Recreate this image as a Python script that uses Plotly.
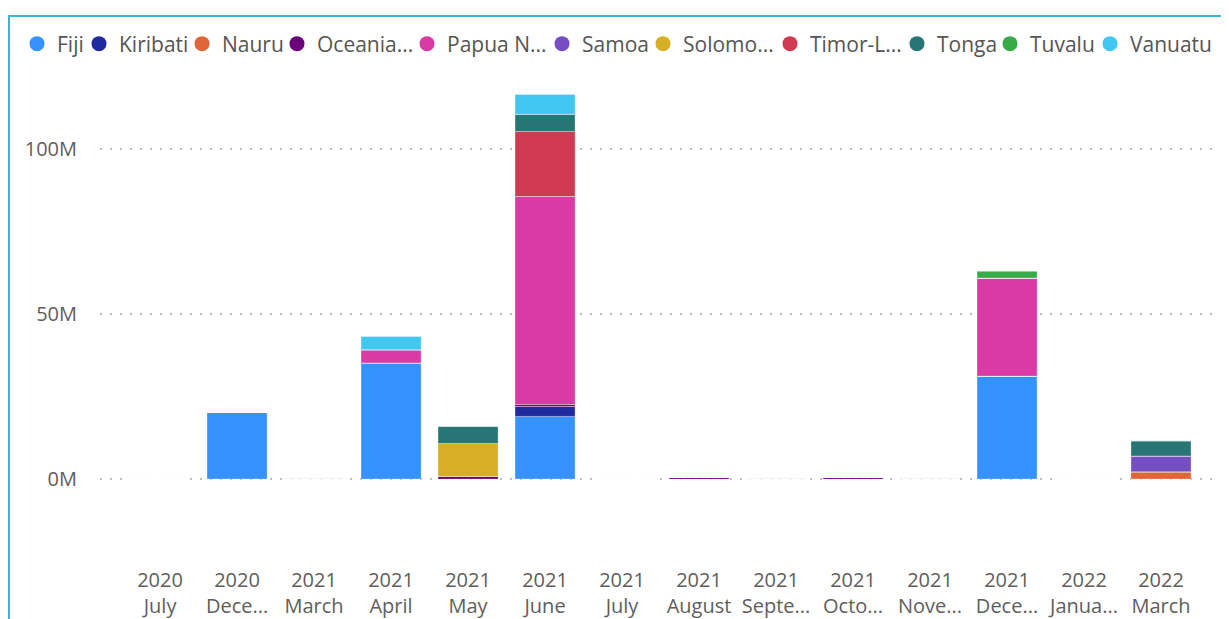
import plotly.graph_objects as go

categories = ["2020<br>July", "2020<br>Dece...", "2021<br>March", "2021<br>April", "2021<br>May",
              "2021<br>June", "2021<br>July", "2021<br>August", "2021<br>Septe...", "2021<br>Octo...",
              "2021<br>Nove...", "2021<br>Dece...", "2022<br>Janua...", "2022<br>March"]

series_names = ["Fiji", "Kiribati", "Nauru", "Oceania...", "Papua N...", "Samoa", "Solomo...",
                "Timor-L...", "Tonga", "Tuvalu", "Vanuatu"]

# values in millions
fiji     = [0, 20.3, 0, 35.2, 0, 19.0, 0, 0, 0, 0, 0, 31.2, 0, 0]
kiribati = [0, 0, 0, 0, 0, 3.0, 0, 0, 0, 0, 0, 0, 0, 0]
nauru    = [0, 0, 0, 0, 0, 0, 0, 0, 0, 0, 0, 0, 0, 2.2]
oceania  = [0, 0, 0.3, 0, 0.8, 0.6, 0, 0.6, 0.3, 0.6, 0.3, 0, 0, 0]
papua    = [0, 0, 0, 4.0, 0, 63.0, 0, 0, 0, 0, 0, 29.7, 0, 0]
samoa    = [0, 0, 0, 0, 0, 0, 0, 0, 0, 0, 0, 0, 0, 4.8]
solomon  = [0, 0, 0, 0, 10.0, 0, 0, 0, 0, 0, 0, 0, 0, 0]
timor    = [0, 0, 0, 0, 0, 19.7, 0, 0, 0, 0, 0, 0, 0, 0]
tonga    = [0, 0, 0, 0, 5.2, 5.2, 0, 0, 0, 0, 0, 0, 0, 4.6]
tuvalu   = [0, 0, 0, 0, 0, 0, 0, 0, 0, 0, 0, 2.1, 0, 0]
vanuatu  = [0, 0, 0, 4.0, 0, 6.0, 0, 0, 0, 0, 0, 0, 0, 0]

series_values = [fiji, kiribati, nauru, oceania, papua, samoa, solomon, timor, tonga, tuvalu, vanuatu]

colors = ["#3592FF", "#1E2A9E", "#E0663A", "#6B007B", "#D93AA5", "#744EC2", "#D6AF27",
          "#D03A50", "#277575", "#37AB48", "#42C8F0"]
legend_widths = [17, 58, 50, 85, 90, 56, 82, 82, 48, 55, 85]

y_ticks = [0, 50, 100]
y_tick_text = ["0M", "50M", "100M"]

fig = go.Figure()
for name, vals, col, lw in zip(series_names, series_values, colors, legend_widths):
    fig.add_trace(go.Bar(x=categories, y=vals, name=name, marker_color=col,
                         marker_line=dict(color="rgba(255,255,255,0.3)", width=1),
                         legendgroup=name, showlegend=False))
    fig.add_trace(go.Scatter(x=[None], y=[None], mode="markers", name=name,
                             marker=dict(symbol="circle", size=15, color=col),
                             legendgroup=name, showlegend=True, legendwidth=lw))

OFF = 8  # page body margin
W, H = 1229 - OFF, 619 - OFF
L, R, T, B = 100 - OFF, 11, 75 - OFF, 59
pw, ph = W - L - R, H - T - B

def px(x):
    return (x - OFF - L) / pw

def py(y):
    return (H - B - (y - OFF)) / ph

fig.add_shape(type="rect", xref="paper", yref="paper",
              x0=px(9), x1=px(1240), y0=py(640), y1=py(16),
              line=dict(color="#3BB5D3", width=2), fillcolor="rgba(0,0,0,0)", layer="below")

fig.update_layout(
    width=W, height=H,
    margin=dict(l=L, r=R, t=T, b=B, autoexpand=False),
    barmode="relative",
    bargap=0.22,
    plot_bgcolor="white", paper_bgcolor="white",
    font=dict(family="Segoe UI, Open Sans, sans-serif", color="#605E5C", size=20),
    showlegend=True,
    legend=dict(orientation="h", x=px(17), xanchor="left", y=py(44), yanchor="middle",
                font=dict(size=21, color="#555555"), itemwidth=30, tracegroupgap=0,
                bgcolor="rgba(0,0,0,0)"),
    xaxis=dict(type="category", range=[-0.78, 13.74], showgrid=False, showline=False,
               ticks="", tickfont=dict(size=20, color="#605E5C"), ticklabelstandoff=6,
               automargin=False),
    yaxis=dict(range=[-24.5, 122.4], tickvals=y_ticks, ticktext=y_tick_text,
               showgrid=True, gridcolor="#BDBDBD", gridwidth=2, griddash="2px,8px",
               zeroline=False, showline=False, ticks="",
               tickfont=dict(size=20, color="#605E5C"), ticklabelstandoff=22,
               automargin=False),
)

fig.write_html("out.html")
